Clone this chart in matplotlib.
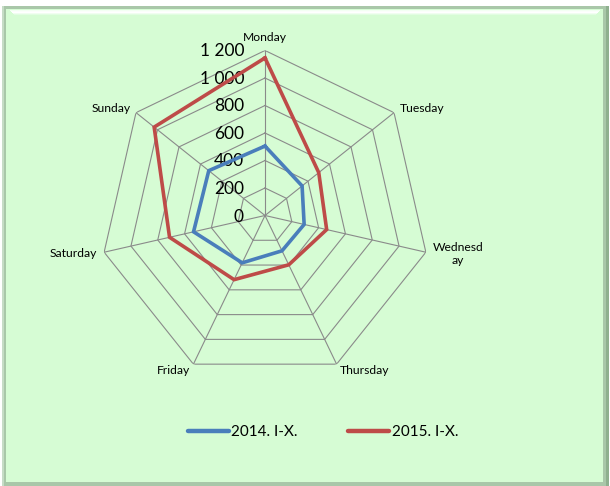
import numpy as np
import matplotlib
matplotlib.use("Agg")
import matplotlib.pyplot as plt
from matplotlib.patches import Rectangle

plt.rcParams['font.family'] = ['Lato', 'DejaVu Sans']

days = ["Monday", "Tuesday", "Wednesd\nay", "Thursday", "Friday", "Saturday", "Sunday"]
y2014 = [505, 345, 292, 285, 382, 533, 523]
y2015 = [1146, 500, 460, 398, 518, 712, 1031]
ticks = [0, 200, 400, 600, 800, 1000, 1200]
series_names = ["2014. I-X.", "2015. I-X."]

W, H = 610, 486
fig = plt.figure(figsize=(W / 100, H / 100), dpi=100, facecolor="white")

def px_rect(x0, y0, x1, y1, **kw):
    # rectangle given in pixels from the top-left corner
    fig.patches.append(Rectangle((x0 / W, 1 - y1 / H), (x1 - x0) / W, (y1 - y0) / H,
                                 transform=fig.transFigure, **kw))

# bevelled light green panel
px_rect(2, 6, 609, 486, facecolor="#a9c7a9", edgecolor="none", zorder=-5)
px_rect(6, 9, 603, 482, facecolor="#d6fcd4", edgecolor="none", zorder=-4)
for i, c in enumerate(["#f4fff4", "#fbfffb", "#ffffff", "#f0fef0", "#e2fde2"]):
    px_rect(10 + i, 10 + i, 600 - i, 11 + i, facecolor=c, edgecolor="none", zorder=-3)
px_rect(2, 6, 4, 486, facecolor="#c6dcc6", edgecolor="none", zorder=-3)
px_rect(606, 6, 609, 486, facecolor="#8fb08f", edgecolor="none", zorder=-3)

cx, cy, rad = 265, 215.5, 165
ax = fig.add_axes([(cx - rad) / W, (H - cy - rad) / H, 2 * rad / W, 2 * rad / H],
                  projection="polar")
ax.set_theta_zero_location("N")
ax.set_theta_direction(-1)
ax.set_ylim(0, 1200)
ax.axis("off")

n = len(days)
angles = np.linspace(0, 2 * np.pi, n, endpoint=False)
closed = np.append(angles, angles[0])

grid_col = "#8a8a8a"
for lev in ticks[1:]:
    ax.plot(closed, [lev] * (n + 1), color=grid_col, lw=0.8, zorder=1)
for a in angles:
    ax.plot([a, a], [0, ticks[-1]], color=grid_col, lw=0.8, zorder=1)

for lev in ticks:
    ax.annotate(f"{lev:,}".replace(",", " "), xy=(0, lev), xytext=(-21, -1),
                textcoords="offset pixels", ha="right", va="center",
                fontsize=12.5, color="black", zorder=3)

for a, name in zip(angles, days):
    s, c = np.sin(a), np.cos(a)
    ha = "left" if s > 0.2 else ("right" if s < -0.2 else "center")
    va = "bottom" if c > 0.9 else "center"
    ax.annotate(name, xy=(a, ticks[-1]), xytext=(7 * s, 7 * c),
                textcoords="offset pixels", ha=ha, va=va, fontsize=8.7,
                multialignment="center", linespacing=1.2)

l1, = ax.plot(closed, y2014 + y2014[:1], color="#4a7ebb", lw=2.6, zorder=4,
              solid_joinstyle="miter", label=series_names[0])
l2, = ax.plot(closed, y2015 + y2015[:1], color="#be4b48", lw=2.6, zorder=4,
              solid_joinstyle="miter", label=series_names[1])

fig.legend(handles=[l1, l2], loc="center", bbox_to_anchor=(323 / W, 1 - 432 / H),
           ncol=2, frameon=False, fontsize=11, handlelength=2.7,
           handletextpad=0.15, columnspacing=3.3)
for h in fig.legends[0].legend_handles:
    h.set_linewidth(3.2)
    h.set_solid_capstyle("round")

fig.savefig("out.png", dpi=100, facecolor=fig.get_facecolor())
